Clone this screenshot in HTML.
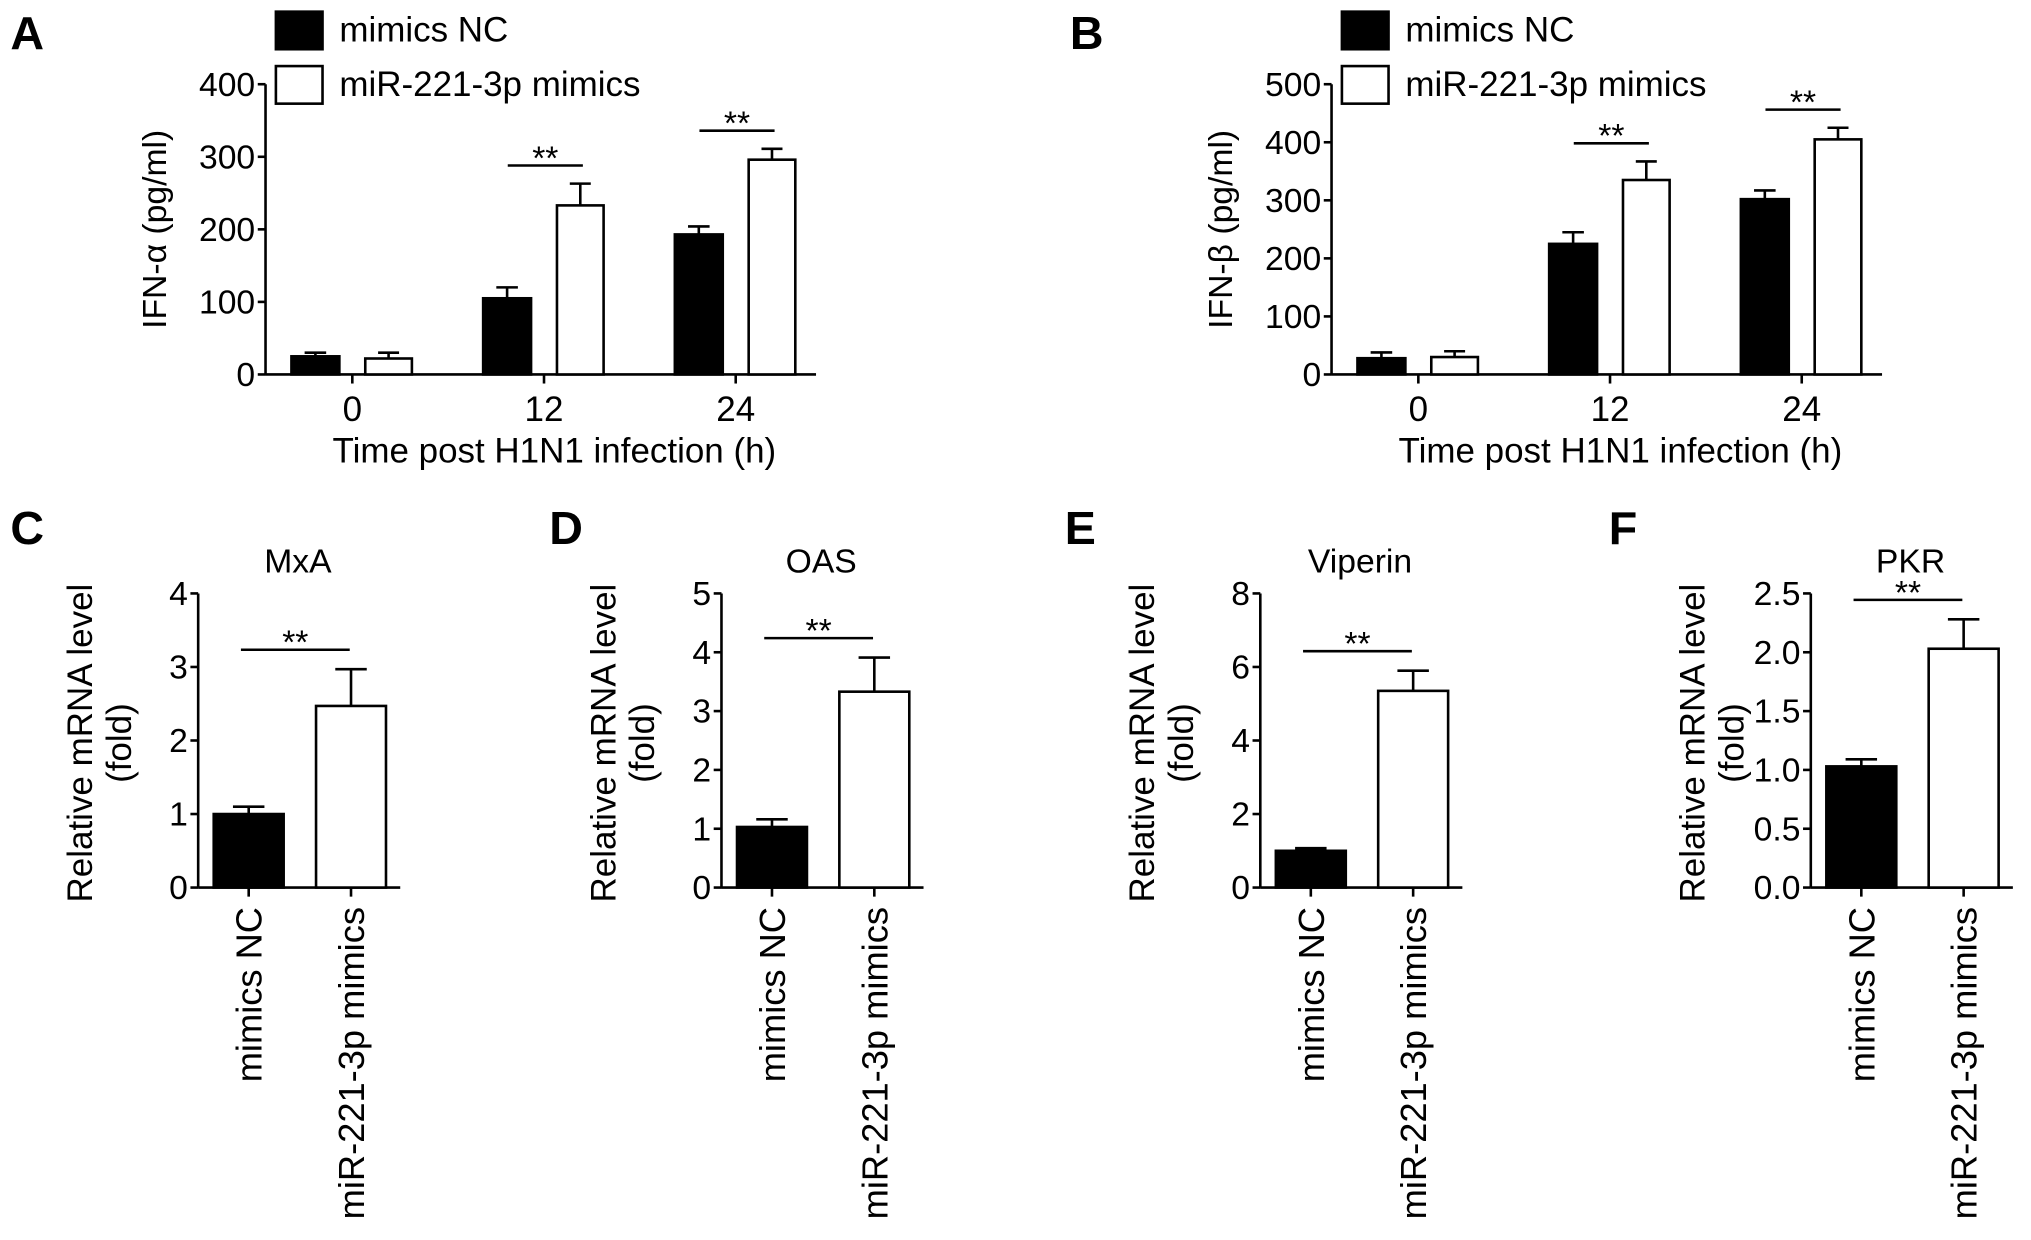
<!DOCTYPE html>
<html><head><meta charset="utf-8">
<style>
html,body{margin:0;padding:0;background:#fff;}
svg{display:block;}
text{font-family:"Liberation Sans",sans-serif;fill:#000;}
.n{font-family:"Liberation Sans Narrow","Liberation Sans",sans-serif;}
</style></head>
<body>
<svg id="fig" width="2031" height="1240" viewBox="0 0 1568 957" preserveAspectRatio="none" xmlns="http://www.w3.org/2000/svg"></svg>
<script>
// Panel A data
const timeCats = ["0", "12", "24"];
const ifnaNC = [25, 105, 193];
const ifnaNCErr = [5, 15, 11];
const ifnaMim = [22, 233, 296];
const ifnaMimErr = [8, 30, 15];
const ifnaTicks = [0, 100, 200, 300, 400];
// Panel B data
const ifnbNC = [28, 225, 302];
const ifnbNCErr = [10, 20, 15];
const ifnbMim = [30, 335, 405];
const ifnbMimErr = [10, 32, 20];
const ifnbTicks = [0, 100, 200, 300, 400, 500];
// Panels C-F data
const geneCats = ["mimics NC", "miR-221-3p mimics"];
const mxaVals = [1.0, 2.47]; const mxaErr = [0.1, 0.5]; const mxaTicks = ["0","1","2","3","4"];
const oasVals = [1.03, 3.33]; const oasErr = [0.13, 0.58]; const oasTicks = ["0","1","2","3","4","5"];
const vipVals = [1.0, 5.35]; const vipErr = [0.07, 0.55]; const vipTicks = ["0","2","4","6","8"];
const pkrVals = [1.03, 2.03]; const pkrErr = [0.06, 0.25]; const pkrTicks = ["0.0","0.5","1.0","1.5","2.0","2.5"];

const NS = "http://www.w3.org/2000/svg";
const svg = document.getElementById("fig");
function mk(tag, attrs, parent, txt) {
  const e = document.createElementNS(NS, tag);
  for (const k in attrs) e.setAttribute(k, attrs[k]);
  if (txt !== undefined) e.textContent = txt;
  (parent || svg).appendChild(e);
  return e;
}
function grp(name) {
  const g = mk("g", {});
  
  
  return g;
}
function line(g, x1, y1, x2, y2, name) {
  const l = mk("line", {x1, y1, x2, y2, stroke: "#000", "stroke-width": 2}, g);
  
  
  return l;
}
function txt(g, x, y, s, size, anchor, name, cls, extra) {
  const t = mk("text", Object.assign({x, y, "font-size": size, "text-anchor": anchor || "middle"}, extra || {}), g, s);
  if (cls) t.setAttribute("class", cls);
  
  
  return t;
}
function bar(g, x, w, yTop, yBase, filled, errTop, name) {
  const capW = w * 0.45, cx = x + w / 2;
  line(g, cx, yTop, cx, errTop, name + "-error");
  line(g, cx - capW / 2, errTop, cx + capW / 2, errTop, name + "-error-cap");
  const r = mk("rect", {x, y: yTop, width: w, height: Math.max(0, yBase - yTop), fill: filled ? "#000" : "#fff", stroke: "#000", "stroke-width": 2}, g);
  
  
}
function sig(g, x1, x2, y, name) {
  line(g, x1, y, x2, y, name + "-line");
  txt(g, (x1 + x2) / 2, y + 3, "**", 26, "middle", name + "-stars");
}

function groupedPanel(o) {
  const g = grp(o.name);
  const max = o.ticks[o.ticks.length - 1];
  const y = v => o.y0 - (v / max) * (o.y0 - o.yTop);
  const gw = 148;
  const gx = i => o.ax + 67 + i * gw;
  line(g, o.ax, o.yTop, o.ax, o.y0, "y-axis");
  line(g, o.ax, o.y0, o.ax + 425, o.y0, "x-axis");
  o.ticks.forEach(t => {
    line(g, o.ax - 6, y(t), o.ax, y(t), "y-tick");
    txt(g, o.ax - 8, y(t) + 9, String(t), 26, "end", "y-tick-label", "n");
  });
  timeCats.forEach((c, i) => {
    const cx = gx(i);
    line(g, cx, o.y0, cx, o.y0 + 7, "x-tick");
    txt(g, cx, o.y0 + 36, c, 27, "middle", "x-tick-label", "n");
    bar(g, cx - 47, 37, y(o.nc[i]), o.y0, true, y(o.nc[i] + o.ncE[i]), "bar-nc-" + c + "h");
    bar(g, cx + 10, 36, y(o.mi[i]), o.y0, false, y(o.mi[i] + o.miE[i]), "bar-mimics-" + c + "h");
    if (i > 0) {
      const top = Math.max(o.mi[i] + o.miE[i], o.nc[i] + o.ncE[i]);
      sig(g, cx - 28, cx + 30, y(top) - 14, "significance-" + c + "h");
    }
  });
  txt(g, o.ax + 223, o.y0 + 68, "Time post H1N1 infection (h)", 27, "middle", "x-axis-title");
  txt(g, 0, 0, o.ytitle, 26, "middle", "y-axis-title", null, {transform: `translate(${o.ax - 77},${(o.y0 + o.yTop) / 2}) rotate(-90)`});
  const lx = o.ax + 8;
  const r1 = mk("rect", {x: lx, y: 9, width: 36, height: 29, fill: "#000", stroke: "#000", "stroke-width": 2}, g);
  
  
  txt(g, lx + 49, 32, "mimics NC", 27, "start", "legend-label-nc");
  const r2 = mk("rect", {x: lx, y: 51, width: 36, height: 29, fill: "#fff", stroke: "#000", "stroke-width": 2}, g);
  
  
  txt(g, lx + 49, 74, "miR-221-3p mimics", 27, "start", "legend-label-mimics");
  txt(g, o.letterX, 38, o.letter, 36, "start", "panel-letter", null, {"font-weight": "bold"});
}
groupedPanel({name: "panel-a", letter: "A", letterX: 8, ax: 205, yTop: 65, y0: 289, ticks: ifnaTicks, nc: ifnaNC, ncE: ifnaNCErr, mi: ifnaMim, miE: ifnaMimErr, ytitle: "IFN-\u03b1 (pg/ml)"});
groupedPanel({name: "panel-b", letter: "B", letterX: 826, ax: 1028, yTop: 65, y0: 289, ticks: ifnbTicks, nc: ifnbNC, ncE: ifnbNCErr, mi: ifnbMim, miE: ifnbMimErr, ytitle: "IFN-\u03b2 (pg/ml)"});

function genePanel(o) {
  const g = grp(o.name);
  const max = parseFloat(o.ticks[o.ticks.length - 1]);
  const yTop = 458, y0 = 685;
  const y = v => y0 - (v / max) * (y0 - yTop);
  line(g, o.ax, yTop, o.ax, y0, "y-axis");
  line(g, o.ax, y0, o.ax + 156, y0, "x-axis");
  o.ticks.forEach(t => {
    const v = parseFloat(t);
    line(g, o.ax - 6, y(v), o.ax, y(v), "y-tick");
    txt(g, o.ax - 8, y(v) + 9, t, 26, "end", "y-tick-label", "n");
  });
  const bw = 54;
  geneCats.forEach((c, i) => {
    const bx = o.ax + 12 + i * 79;
    const cx = bx + bw / 2;
    line(g, cx, y0, cx, y0 + 7, "x-tick");
    bar(g, bx, bw, y(o.vals[i]), y0, i === 0, y(o.vals[i] + o.err[i]), i === 0 ? "bar-nc" : "bar-mimics");
    txt(g, 0, 0, c, 28, "end", "x-tick-label", null, {transform: `translate(${cx + 10},${y0 + 15}) rotate(-90)`});
  });
  const top = o.vals[1] + o.err[1];
  sig(g, o.ax + 33, o.ax + 117, y(top) - 15, "significance");
  txt(g, o.ax + 77, 442, o.title, 26, "middle", "chart-title", "n");
  txt(g, 0, 0, "Relative mRNA level", 27, "middle", "y-axis-title", null, {transform: `translate(${o.ax - 82},${(yTop + y0) / 2 + 2}) rotate(-90)`});
  txt(g, 0, 0, "(fold)", 27, "middle", "y-axis-title-unit", null, {transform: `translate(${o.ax - 52},${(yTop + y0) / 2 + 2}) rotate(-90)`});
  txt(g, o.letterX, 420, o.letter, 36, "start", "panel-letter", null, {"font-weight": "bold"});
}
genePanel({name: "panel-c-mxa", letter: "C", letterX: 8, ax: 153, ticks: mxaTicks, vals: mxaVals, err: mxaErr, title: "MxA"});
genePanel({name: "panel-d-oas", letter: "D", letterX: 424, ax: 557, ticks: oasTicks, vals: oasVals, err: oasErr, title: "OAS"});
genePanel({name: "panel-e-viperin", letter: "E", letterX: 822, ax: 973, ticks: vipTicks, vals: vipVals, err: vipErr, title: "Viperin"});
genePanel({name: "panel-f-pkr", letter: "F", letterX: 1242, ax: 1398, ticks: pkrTicks, vals: pkrVals, err: pkrErr, title: "PKR"});
</script>
</body></html>
